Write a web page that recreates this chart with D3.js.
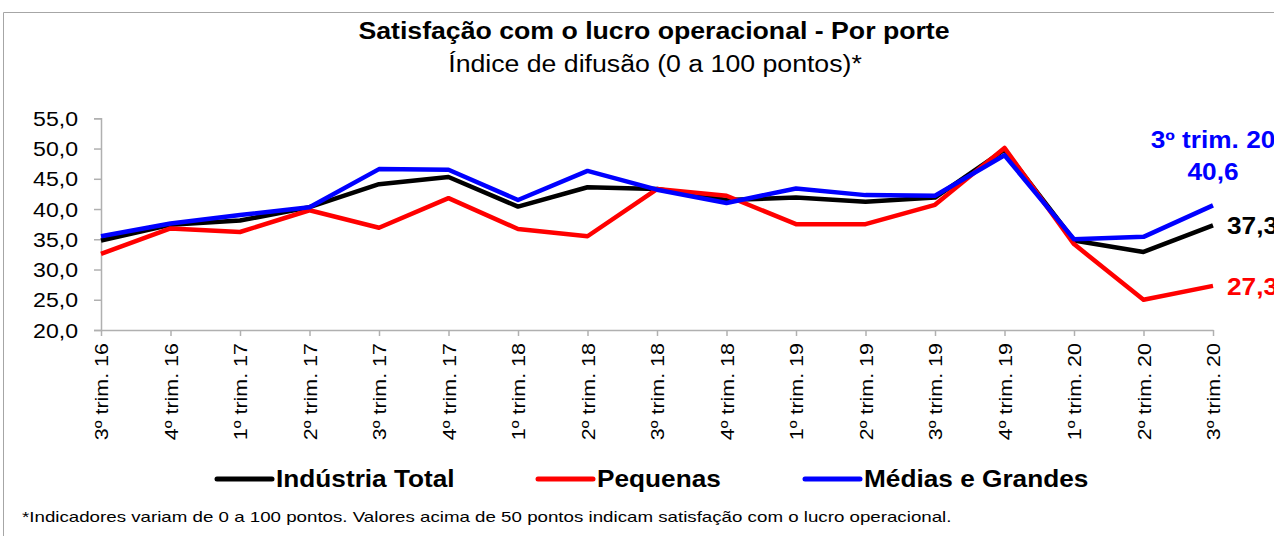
<!DOCTYPE html>
<html lang="pt">
<head>
  <meta charset="UTF-8">
  <title>Satisfação com o lucro operacional - Por porte</title>
  <script src="https://d3js.org/d3.v7.min.js"></script>
  <style>
    body { margin: 0; background: #fff; }
    text { font-family: "Liberation Sans", Arial, sans-serif; }
  </style>
</head>
<body>
  <div id="chart"></div>

  <script>
    // data
    const quarters = [
      "3º trim. 16", "4º trim. 16", "1º trim. 17", "2º trim. 17", "3º trim. 17",
      "4º trim. 17", "1º trim. 18", "2º trim. 18", "3º trim. 18", "4º trim. 18",
      "1º trim. 19", "2º trim. 19", "3º trim. 19", "4º trim. 19", "1º trim. 20",
      "2º trim. 20", "3º trim. 20"
    ];
    const industriaTotal = [34.8, 37.4, 38.1, 40.3, 44.1, 45.3, 40.4, 43.6, 43.3, 41.5, 41.9, 41.2, 41.9, 49.8, 34.8, 32.9, 37.3];
    const pequenas       = [32.6, 36.8, 36.2, 39.8, 36.9, 41.8, 36.7, 35.5, 43.3, 42.2, 37.5, 37.5, 40.7, 50.1, 34.2, 25.0, 27.3];
    const mediasGrandes  = [35.5, 37.6, 39.0, 40.3, 46.6, 46.5, 41.5, 46.3, 43.2, 41.0, 43.4, 42.3, 42.2, 48.9, 35.0, 35.4, 40.6];
    const seriesNames = ["Indústria Total", "Pequenas", "Médias e Grandes"];
    const yTicks = [20, 25, 30, 35, 40, 45, 50, 55];

    const colors = ["#000000", "#ff0000", "#0000ff"];
    const seriesValues = [industriaTotal, pequenas, mediasGrandes];

    const width = 1274;
    const height = 536;
    const SX = 1.14; // text in the picture is a bit wider than plain Arial

    const svg = d3.select("#chart")
      .append("svg")
      .attr("width", width)
      .attr("height", height);

    // thin frame (top and left edge visible)
    svg.append("path")
      .attr("d", "M3.5,600 L3.5,12.5 L1300,12.5")
      .attr("fill", "none")
      .attr("stroke", "#a6a6a6")
      .attr("stroke-width", 1);

    // horizontal text with a small horizontal stretch
    function hText(x, y, str, opts) {
      const t = svg.append("text")
        .attr("transform", `translate(${x},${y}) scale(${opts.sx || SX},1)`)
        .attr("text-anchor", opts.anchor || "start")
        .attr("font-size", opts.size + "px")
        .attr("font-weight", opts.bold ? "bold" : "normal")
        .attr("fill", opts.color || "#000")
        .text(str);
      return t;
    }

    // title
    hText(654, 39, "Satisfação com o lucro operacional - Por porte", { size: 23, bold: true, anchor: "middle", sx: 1.16 });
    hText(655, 72, "Índice de difusão (0 a 100 pontos)*", { size: 23, anchor: "middle", sx: 1.16 });

    // scales
    const x = d3.scalePoint()
      .domain(quarters)
      .range([101, 1213]);

    const y = d3.scaleLinear()
      .domain([20, 55])
      .range([330, 118.3]);

    // y axis
    const yAxis = svg.append("g")
      .attr("transform", "translate(101,0)")
      .call(d3.axisLeft(y).tickValues(yTicks).tickSize(7).tickFormat(() => ""));
    yAxis.select(".domain").attr("stroke", "#b0b0b0").attr("stroke-width", 1.5);
    yAxis.selectAll(".tick line").attr("stroke", "#b0b0b0").attr("stroke-width", 1.5);

    yTicks.forEach(v => {
      hText(78, y(v) + 7.5, d3.format(".1f")(v).replace(".", ","), { size: 21, anchor: "end", sx: 1.1 });
    });

    // x axis
    const xAxis = svg.append("g")
      .attr("transform", "translate(0,330)")
      .call(d3.axisBottom(x).tickSize(6).tickSizeOuter(0).tickFormat(() => ""));
    xAxis.select(".domain").attr("stroke", "#b0b0b0").attr("stroke-width", 1.5);
    xAxis.selectAll(".tick line").attr("stroke", "#b0b0b0").attr("stroke-width", 1.5);

    svg.append("g")
      .selectAll("text")
      .data(quarters)
      .enter()
      .append("text")
      .attr("transform", d => `translate(${x(d) + 7},343) rotate(-90) scale(1.13,1)`)
      .attr("text-anchor", "end")
      .attr("font-size", "19px")
      .attr("fill", "#000")
      .text(d => d);

    // lines
    const line = d3.line()
      .x((d, i) => x(quarters[i]))
      .y(d => y(d));

    seriesValues.forEach((vals, k) => {
      svg.append("path")
        .datum(vals)
        .attr("d", line)
        .attr("fill", "none")
        .attr("stroke", colors[k])
        .attr("stroke-width", 4.5)
        .attr("stroke-linejoin", "round");
    });

    // end labels (cut by the right edge, as in the original)
    const last = quarters.length - 1;
    const lx = x(quarters[last]);
    const fmt = v => d3.format(".1f")(v).replace(".", ",");
    hText(lx, 148, quarters[last], { size: 23, bold: true, anchor: "middle", color: colors[2] });
    hText(lx, 180, fmt(mediasGrandes[last]), { size: 23, bold: true, anchor: "middle", color: colors[2] });
    hText(lx + 14, y(industriaTotal[last]) + 9, fmt(industriaTotal[last]), { size: 23, bold: true, color: colors[0] });
    hText(lx + 14, y(pequenas[last]) + 9, fmt(pequenas[last]), { size: 23, bold: true, color: colors[1] });

    // legend
    const legendX = [217, 538, 805];
    seriesNames.forEach((name, k) => {
      svg.append("line")
        .attr("x1", legendX[k])
        .attr("x2", legendX[k] + 55)
        .attr("y1", 479)
        .attr("y2", 479)
        .attr("stroke", colors[k])
        .attr("stroke-width", 5)
        .attr("stroke-linecap", "round");
      hText(legendX[k] + 59, 487, name, { size: 23, bold: true });
    });

    // footnote, fitted to the width it has in the picture
    const note = svg.append("text")
      .attr("font-size", "15px")
      .attr("fill", "#000")
      .text("*Indicadores variam de 0 a 100 pontos. Valores acima de 50 pontos indicam satisfação com o lucro operacional.");
    const noteLen = note.node().getComputedTextLength();
    note.attr("transform", `translate(22,522) scale(${930 / noteLen},1)`);
  </script>
</body>
</html>
